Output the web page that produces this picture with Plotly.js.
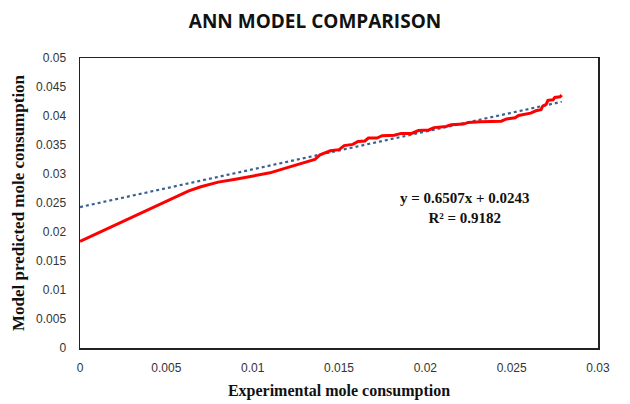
<!DOCTYPE html>
<html>
<head>
<meta charset="utf-8">
<script src="https://cdn.plot.ly/plotly-3.0.1.min.js"></script>
<style>html,body{margin:0;padding:0;background:#fff;}#chart{width:630px;height:404px;}</style>
</head>
<body>
<div id="chart"></div>
<script>
// Red curve: model predicted vs experimental mole consumption
const expX = [0, 0.0020, 0.0040, 0.0055, 0.0063, 0.0070, 0.0080, 0.0090, 0.0100, 0.0110, 0.0120, 0.0130, 0.0136, 0.0139, 0.0142, 0.0145, 0.0150, 0.0153, 0.0158, 0.0161, 0.0165, 0.0167, 0.0172, 0.0175, 0.0182, 0.0186, 0.0192, 0.0196, 0.0202, 0.0205, 0.0212, 0.0215, 0.0222, 0.0225, 0.0232, 0.0244, 0.0247, 0.0252, 0.0254, 0.0258, 0.0261, 0.0264, 0.0267, 0.0268, 0.0270, 0.0271, 0.0274, 0.0275, 0.0278, 0.0279];
const predY = [0.0184, 0.0212, 0.0240, 0.0261, 0.0271, 0.0278, 0.0286, 0.0291, 0.0296, 0.0302, 0.0311, 0.0319, 0.0325, 0.0333, 0.0336, 0.0340, 0.0342, 0.0349, 0.0351, 0.0356, 0.0357, 0.0362, 0.0362, 0.0366, 0.0367, 0.0370, 0.0370, 0.0375, 0.0376, 0.0380, 0.0382, 0.0385, 0.0386, 0.0389, 0.0390, 0.0391, 0.0395, 0.0397, 0.0401, 0.0403, 0.0405, 0.0409, 0.0411, 0.0417, 0.0420, 0.0427, 0.0428, 0.0432, 0.0433, 0.0436];
// Linear trend line endpoints (y = 0.6507x + 0.0243)
const trendX = [0, 0.0279];
const trendY = [0.0243, 0.04245];
const xTicks = [0, 0.005, 0.01, 0.015, 0.02, 0.025, 0.03];
const xTickText = ["0", "0.005", "0.01", "0.015", "0.02", "0.025", "0.03"];
const yTicks = [0, 0.005, 0.01, 0.015, 0.02, 0.025, 0.03, 0.035, 0.04, 0.045, 0.05];
const yTickText = ["0", "0.005", "0.01", "0.015", "0.02", "0.025", "0.03", "0.035", "0.04", "0.045", "0.05"];
const eqText = "y = 0.6507x + 0.0243<br>R² = 0.9182";

const traces = [
  {x: trendX, y: trendY, mode: 'lines', line: {color: '#3A6290', width: 2.2, dash: 'dot'}, hoverinfo: 'skip'},
  {x: expX, y: predY, mode: 'lines', line: {color: '#FF0000', width: 3}, hoverinfo: 'skip'}
];
const serif = 'Liberation Serif, Times New Roman, serif';
const layout = {
  width: 630, height: 404,
  margin: {l: 80, r: 32, t: 58, b: 56},
  paper_bgcolor: '#fff', plot_bgcolor: '#fff',
  showlegend: false,
  title: {text: '<b>ANN MODEL COMPARISON</b>', x: 0.5, xanchor: 'center', y: 0.947, yanchor: 'middle',
          font: {family: 'Open Sans, sans-serif', size: 19, color: '#111'}},
  xaxis: {range: [0, 0.03], tickvals: xTicks, ticktext: xTickText, showgrid: false, zeroline: false,
          showline: true, mirror: true, linecolor: '#222', linewidth: 1.5, ticks: '',
          ticklabelstandoff: 8,
          tickfont: {family: 'Liberation Sans, Arial, sans-serif', size: 12, color: '#333'},
          title: {text: '<b>Experimental mole consumption</b>', standoff: 11, font: {family: serif, size: 16, color: '#111'}}},
  yaxis: {range: [0, 0.05], tickvals: yTicks, ticktext: yTickText, showgrid: false, zeroline: false,
          showline: true, mirror: true, linecolor: '#222', linewidth: 1.5, ticks: '',
          ticklabelstandoff: 10,
          tickfont: {family: 'Liberation Sans, Arial, sans-serif', size: 12, color: '#333'},
          title: {text: '<b>Model predicted mole consumption</b>', standoff: 7, font: {family: serif, size: 17, color: '#111'}}},
  annotations: [{x: 0.0223, y: 0.0241, xref: 'x', yref: 'y', text: '<b>' + eqText + '</b>', showarrow: false,
                 align: 'center', font: {family: serif, size: 15, color: '#111'}}]
};
Plotly.newPlot('chart', traces, layout, {displayModeBar: false, staticPlot: true});
</script>
</body>
</html>
